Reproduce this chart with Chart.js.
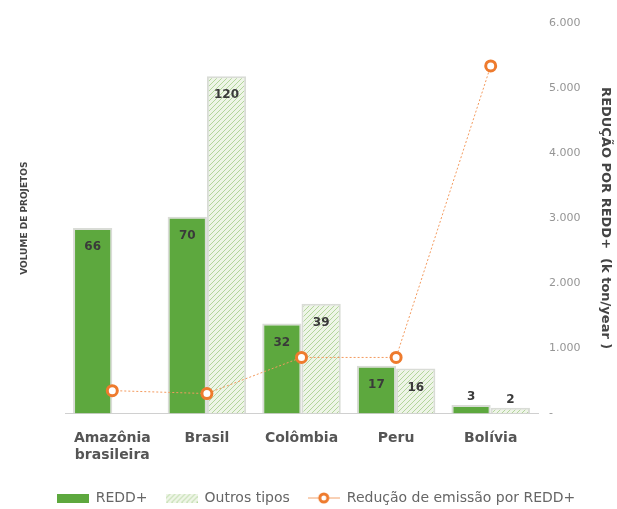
<!DOCTYPE html>
<html>
<head>
<meta charset="utf-8">
<script src="https://cdn.jsdelivr.net/npm/chart.js@4"></script>
<style>
  html, body { margin: 0; padding: 0; background: #fff; }
  #wrap { width: 617px; height: 509px; }
</style>
</head>
<body>
<div id="wrap"><canvas id="projetosChart"></canvas></div>
<script>
// DATA
const categories = [["Amazônia", "brasileira"], "Brasil", "Colômbia", "Peru", "Bolívia"];
const reddProjects = [66, 70, 32, 17, 3];
const otherProjects = [null, 120, 39, 16, 2];
const emissionReduction = [350, 305, 860, 860, 5340];
const rightTicks = [0, 1000, 2000, 3000, 4000, 5000, 6000];

const FONT = "'DejaVu Sans', sans-serif";

// hatch pattern for "Outros tipos"
function makeHatch() {
    const c = document.createElement("canvas");
    c.width = 5; c.height = 5;
    const g = c.getContext("2d");
    g.fillStyle = "#eef5e7";
    g.fillRect(0, 0, 5, 5);
    g.strokeStyle = "#b3d59c";
    g.lineWidth = 1;
    g.beginPath();
    g.moveTo(0, 5); g.lineTo(5, 0);
    g.moveTo(-1, 1); g.lineTo(1, -1);
    g.moveTo(4, 6); g.lineTo(6, 4);
    g.stroke();
    return c;
}
const hatchCanvas = makeHatch();

// legend markers
function legendBox(fill) {
    const c = document.createElement("canvas");
    c.width = 32; c.height = 9;
    const g = c.getContext("2d");
    g.fillStyle = fill;
    g.fillRect(0, 0, 32, 9);
    return c;
}
function legendLine() {
    const c = document.createElement("canvas");
    c.width = 32; c.height = 12;
    const g = c.getContext("2d");
    g.strokeStyle = "#f2a26c";
    g.lineWidth = 1;
    g.beginPath(); g.moveTo(0, 6); g.lineTo(32, 6); g.stroke();
    g.beginPath(); g.arc(16, 6, 4, 0, Math.PI * 2);
    g.fillStyle = "#fff"; g.fill();
    g.lineWidth = 3; g.strokeStyle = "#ee7b2e"; g.stroke();
    return c;
}

const ctx = document.getElementById("projetosChart").getContext("2d");
const hatch = ctx.createPattern(hatchCanvas, "repeat");
const legendMarks = [legendBox("#5da83e"), legendBox(ctx.createPattern(hatchCanvas, "repeat")), legendLine()];

// numbers on the bars
const barLabels = {
    id: "barLabels",
    afterDatasetsDraw(chart) {
        const c = chart.ctx;
        c.save();
        c.font = "bold 12px " + FONT;
        c.fillStyle = "#3a3a3a";
        c.textAlign = "center";
        c.textBaseline = "middle";
        chart.data.datasets.forEach((ds, i) => {
            if (ds.type === "line") return;
            chart.getDatasetMeta(i).data.forEach((bar, j) => {
                const v = ds.data[j];
                if (v === null) return;
                const h = bar.base - bar.y;
                const y = h < 24 ? bar.y - 8 : bar.y + 19;
                c.fillText(String(v), bar.x, y);
            });
        });
        c.restore();
    }
};

// pull the legend a bit lower
const legendShift = {
    id: "legendShift",
    afterInit(chart) {
        const lg = chart.legend;
        const fit = lg.fit;
        lg.fit = function () {
            fit.call(this);
            this.height -= 6;
        };
    }
};

new Chart(ctx, {
    data: {
        labels: categories,
        datasets: [
            {
                type: "line",
                label: "Redução de emissão por REDD+",
                data: emissionReduction,
                yAxisID: "y1",
                order: 0,
                borderColor: "#f39a5e",
                borderWidth: 1,
                borderDash: [2, 2],
                pointRadius: 5,
                pointBorderWidth: 3,
                pointBorderColor: "#ee7b2e",
                pointBackgroundColor: "#fff"
            },
            {
                type: "bar",
                label: "REDD+",
                data: reddProjects,
                yAxisID: "y",
                order: 1,
                backgroundColor: "#5da83e",
                borderColor: "#d9dcd6",
                borderWidth: 2,
                categoryPercentage: 0.83,
                barPercentage: 1
            },
            {
                type: "bar",
                label: "Outros tipos",
                data: otherProjects,
                yAxisID: "y",
                order: 2,
                backgroundColor: hatch,
                borderColor: "#d9dcd6",
                borderWidth: 2,
                categoryPercentage: 0.83,
                barPercentage: 1
            }
        ]
    },
    options: {
        responsive: true,
        maintainAspectRatio: false,
        animation: false,
        layout: {
            padding: { top: 23, left: 15, right: 0, bottom: 0 }
        },
        plugins: {
            tooltip: { enabled: false },
            legend: {
                position: "bottom",
                labels: {
                    usePointStyle: true,
                    pointStyleWidth: 32,
                    color: "#666",
                    font: { family: FONT, size: 14 },
                    padding: 18,
                    generateLabels(chart) {
                        const order = [1, 2, 0];
                        return order.map((di, k) => ({
                            text: chart.data.datasets[di].label,
                            pointStyle: legendMarks[k],
                            fillStyle: "transparent",
                            strokeStyle: "transparent",
                            lineWidth: 0,
                            fontColor: "#666",
                            datasetIndex: di,
                            hidden: false
                        }));
                    }
                }
            }
        },
        scales: {
            x: {
                grid: { display: false },
                border: { color: "#d0d0d0", width: 1 },
                ticks: {
                    color: "#555",
                    font: { family: FONT, size: 14, weight: "bold" },
                    maxRotation: 0,
                    autoSkip: false,
                    padding: 9
                }
            },
            y: {
                position: "left",
                min: 0,
                max: 139,
                grid: { display: false },
                border: { display: false },
                ticks: { display: false },
                title: {
                    display: true,
                    text: "VOLUME DE PROJETOS",
                    color: "#444",
                    font: { family: FONT, size: 9, weight: "bold" },
                    padding: { top: 4, bottom: 4 }
                },
                afterFit(scale) { scale.width = 50; }
            },
            y1: {
                position: "right",
                min: 0,
                max: 6000,
                grid: { display: false },
                border: { display: false },
                afterBuildTicks(scale) {
                    scale.ticks = rightTicks.map(v => ({ value: v }));
                },
                ticks: {
                    color: "#959595",
                    padding: 3,
                    font: { family: FONT, size: 11 },
                    callback(v) {
                        if (v === 0) return "-";
                        return String(v).replace(/\B(?=(\d{3})+(?!\d))/g, ".");
                    }
                },
                title: {
                    display: true,
                    text: "REDUÇÃO POR REDD+  (k ton/year )",
                    color: "#444",
                    font: { family: FONT, size: 13, weight: "bold" },
                    padding: { top: 4, bottom: 4 }
                },
                afterFit(scale) { scale.width = 79; }
            }
        }
    },
    plugins: [barLabels, legendShift]
});
</script>
</body>
</html>
